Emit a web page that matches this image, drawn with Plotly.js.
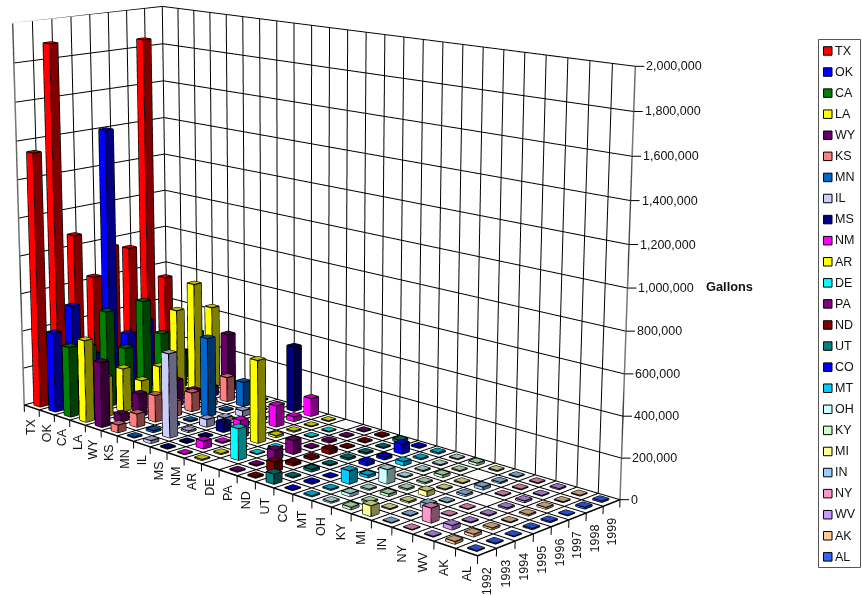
<!DOCTYPE html>
<html><head><meta charset="utf-8">
<script src="https://cdn.plot.ly/plotly-3.0.1.min.js"></script>
<style>
html,body{margin:0;padding:0;width:862px;height:595px;overflow:hidden;background:#fff}
#chart{position:absolute}
</style></head><body><div id="chart"></div>
<script>
// Annual volume in gallons per state, 1992 to 1999
const years=['1992','1993','1994','1995','1996','1997','1998','1999'];
const states=['TX','OK','CA','LA','WY','KS','MN','IL','MS','NM','AR','DE','PA','ND','UT','CO','MT','OH','KY','MI','IN','NY','WV','AK','AL'];
const colors=['#FF0000','#0000FF','#008000','#FFFF00','#660066','#FF8080','#0066CC','#CCCCFF','#000080','#FF00FF','#FFFF00','#00FFFF','#800080','#800000','#008080','#0000FF','#00CCFF','#CCFFFF','#CCFFCC','#FFFF99','#99CCFF','#FF99CC','#CC99FF','#FFCC99','#3366FF'];
const TX=[1345000,1890000,875000,630000,775000,745000,1850000,540000];
const OK=[420000,540000,260000,1430000,320000,370000,120000,150000];
const CA=[370000,350000,510000,290000,520000,320000,180000,280000];
const LA=[430000,210000,230000,140000,190000,470000,590000,440000];
const WY=[340000,40000,120000,80000,140000,60000,50000,315000];
const KS=[40000,70000,140000,80000,100000,30000,130000,20000];
const MN=[5000,10000,10000,5000,415000,5000,130000,5000];
const IL=[15000,435000,8000,40000,20000,30000,5000,5000];
const MS=[5000,5000,5000,50000,20000,10000,5000,345000];
const NM=[3000,40000,5000,90000,5000,110000,25000,95000];
const AR=[5000,5000,5000,425000,10000,5000,3000,3000];
const DE=[0,160000,3000,3000,3000,3000,3000,0];
const PA=[5000,4000,50000,70000,4000,8000,4000,4000];
const ND=[6000,50000,15000,10000,25000,4000,5000,6000];
const UT=[50000,5000,12000,5000,8000,6000,4000,12000];
const CO=[3000,6000,2000,4000,20000,12000,50000,6000];
const MT=[5000,5000,65000,12000,5000,20000,6000,6000];
const OH=[6000,15000,5000,70000,4000,5000,4000,4000];
const KY=[12000,6000,12000,6000,6000,12000,4000,12000];
const MI=[50000,4000,6000,25000,4000,4000,0,4000];
const IN=[2000,3000,25000,2000,8000,14000,6000,3000];
const NY=[2000,70000,2000,2000,0,3000,3000,3000];
const WV=[3000,20000,3000,4000,6000,8000,3000,5000];
const AK=[12000,12000,8000,3000,6000,8000,3000,3000];
const AL=[3000,3000,2000,5000,5000,2000,8000,6000];
const series=[TX,OK,CA,LA,WY,KS,MN,IL,MS,NM,AR,DE,PA,ND,UT,CO,MT,OH,KY,MI,IN,NY,WV,AK,AL];
const zTicks=[0,200000,400000,600000,800000,1000000,1200000,1400000,1600000,1800000,2000000];

// Camera: focal length in px, optical centre in window px, heading and pitch in degrees,
// eye position and box depth/height in units of the box length, floor corner as origin.
const FOCAL=2218.755,OPT_X=300.43,OPT_Y=262.62,HEADING=45.1884,PITCH=13.4346;
const EYE_X=2.8542,EYE_Y=-2.2134,EYE_Z=1.1016,DEPTH=.3238,TALL=.6446;

const NS=states.length,NT=years.length,ZMAX=2000000,ZDROP=38000;
const tall2=TALL*(ZMAX+ZDROP)/ZMAX;
const ha=HEADING*Math.PI/180,pa=PITCH*Math.PI/180;
const view=[-Math.cos(ha)*Math.cos(pa),Math.sin(ha)*Math.cos(pa),-Math.sin(pa)];
const mid=[.5,DEPTH/2,TALL-tall2/2];
const dist=(mid[0]-EYE_X)*view[0]+(mid[1]-EYE_Y)*view[1]+(mid[2]-EYE_Z)*view[2];
const eye={x:EYE_X-mid[0],y:EYE_Y-mid[1],z:EYE_Z-mid[2]};
const center={x:eye.x+dist*view[0],y:eye.y+dist*view[1],z:eye.z+dist*view[2]};

// A 45-degree lens at this focal length needs a plot larger than the window, so it is offset.
const H=Math.round(FOCAL/1.20711),W=H;
const LEFT=Math.round(OPT_X-W/2),TOP=Math.round(OPT_Y-H/2);
const el=document.getElementById('chart');
el.style.left=LEFT+'px';el.style.top=TOP+'px';el.style.width=W+'px';el.style.height=H+'px';
const px=x=>(x-LEFT)/W, py=y=>1-(y-TOP)/H;

function shade(hex,k){
  const n=parseInt(hex.slice(1),16);
  const c=[(n>>16)&255,(n>>8)&255,n&255].map(v=>Math.round(v*k));
  return 'rgb('+c.join(',')+')';
}
function lineSet(){
  const s={x:[],y:[],z:[],add(a,b){s.x.push(a[0],b[0],null);s.y.push(a[1],b[1],null);s.z.push(a[2],b[2],null);}};
  return s;
}
const HALF=.21;
const traces=[];
const edges=lineSet();
series.forEach((vals,s)=>{
  const X=[],Y=[],Z=[],I=[],J=[],K=[],F=[];
  vals.forEach((v,t)=>{
    if(!v) return;
    const x0=s+.5-HALF,x1=s+.5+HALF,y0=t+.5-HALF,y1=t+.5+HALF;
    const b=X.length;
    const P=[[x0,y0,0],[x1,y0,0],[x1,y1,0],[x0,y1,0],[x0,y0,v],[x1,y0,v],[x1,y1,v],[x0,y1,v]];
    P.forEach(p=>{X.push(p[0]);Y.push(p[1]);Z.push(p[2]);});
    const quad=(a,c,d,e,col)=>{I.push(b+a,b+a);J.push(b+c,b+d);K.push(b+d,b+e);F.push(col,col);};
    quad(0,1,5,4,shade(colors[s],1));
    quad(1,2,6,5,shade(colors[s],.5));
    quad(4,5,6,7,shade(colors[s],.75));
    [[0,1],[1,2],[0,4],[1,5],[2,6],[4,5],[5,6],[6,7],[7,4]].forEach(e=>edges.add(P[e[0]],P[e[1]]));
  });
  traces.push({type:'mesh3d',name:states[s],x:X,y:Y,z:Z,i:I,j:J,k:K,facecolor:F,flatshading:true,
    lighting:{ambient:1,diffuse:0,specular:0,roughness:1,fresnel:0},showscale:false,hoverinfo:'name+z'});
});
const lineTrace=(set,color,width)=>({type:'scatter3d',mode:'lines',x:set.x,y:set.y,z:set.z,line:{color,width},hoverinfo:'skip',connectgaps:false});

// Floor grid, both walls, and the short ticks hanging below the front edges
const grid=lineSet(),ticks=lineSet();
for(let i=0;i<=NS;i++){
  grid.add([i,0,0],[i,NT,0]);grid.add([i,NT,0],[i,NT,ZMAX]);
  ticks.add([i,0,0],[i,0,-ZDROP]);
}
for(let j=0;j<=NT;j++){
  grid.add([0,j,0],[NS,j,0]);grid.add([0,j,0],[0,j,ZMAX]);
  ticks.add([NS,j,0],[NS,j,-ZDROP]);
}
zTicks.forEach(v=>{grid.add([0,0,v],[0,NT,v]);grid.add([0,NT,v],[NS,NT,v]);});
traces.push(lineTrace(grid,'#000',2));
traces.push(lineTrace(ticks,'#000',2));
traces.push(lineTrace(edges,'#000',2.2));
traces.push({type:'scatter3d',mode:'lines',x:[0,0,0,NS,NS],y:[0,0,NT,NT,NT],z:[0,ZMAX,ZMAX,ZMAX,0],line:{color:'#777',width:3},hoverinfo:'skip'});
traces.push({type:'scatter3d',mode:'lines',x:[0,NS,NS],y:[0,0,NT],z:[0,0,0],line:{color:'#000',width:3},hoverinfo:'skip'});

const axisFont={family:'Liberation Sans, Arial, sans-serif',size:12.5,color:'#111'};
const XE=NS*.99999,YE=NT*.99999;
const annos=[];
states.forEach((t,s)=>annos.push({x:s+.5,y:0,z:0,text:t,textangle:-90,showarrow:false,yanchor:'top',xanchor:'center',yshift:-(8.5+s*.15),font:axisFont}));
years.forEach((t,i)=>annos.push({x:XE,y:i+.5,z:0,text:t,textangle:-90,showarrow:false,yanchor:'top',xanchor:'center',yshift:-13,font:axisFont}));
zTicks.forEach(v=>annos.push({x:XE,y:YE,z:v,text:v.toLocaleString('en-US'),showarrow:true,arrowhead:0,arrowwidth:1,arrowcolor:'#000',ax:9,ay:0,standoff:0,xanchor:'left',yanchor:'middle',font:axisFont}));

// Legend box, drawn by hand for its narrow swatch-and-label layout
const legendShapes=[{type:'rect',xref:'paper',yref:'paper',x0:px(818.5),x1:px(860.5),y0:py(39.5),y1:py(567.5),line:{color:'#555',width:1},fillcolor:'#fff'}];
const legendAnn=[];
states.forEach((t,s)=>{
  const yc=50.7+s*21.08;
  legendShapes.push({type:'rect',xref:'paper',yref:'paper',x0:px(823.5),x1:px(832),y0:py(yc-4),y1:py(yc+4.5),line:{color:'#000',width:1},fillcolor:colors[s]});
  legendAnn.push({xref:'paper',yref:'paper',x:px(834),y:py(yc),text:t,showarrow:false,xanchor:'left',yanchor:'middle',font:axisFont,borderpad:0});
});
legendAnn.push({xref:'paper',yref:'paper',x:px(704),y:py(286),text:'<b>Gallons</b>',showarrow:false,xanchor:'left',yanchor:'middle',font:{family:'Liberation Sans, Arial, sans-serif',size:12.8,color:'#111'}});

const ax=range=>({range,showticklabels:false,ticks:'',showgrid:false,showline:false,zeroline:false,showbackground:false,showspikes:false,title:{text:''}});
const layout={width:W,height:H,margin:{l:0,r:0,t:0,b:0},paper_bgcolor:'#fff',showlegend:false,
  shapes:legendShapes,annotations:legendAnn,
  scene:{domain:{x:[0,1],y:[0,1]},aspectmode:'manual',aspectratio:{x:1,y:DEPTH,z:tall2},
    camera:{eye,center,up:{x:0,y:0,z:1},projection:{type:'perspective'}},
    xaxis:ax([0,NS]),yaxis:ax([0,NT]),zaxis:ax([-ZDROP,ZMAX]),
    annotations:annos}};
Plotly.newPlot(el,traces,layout,{displayModeBar:false,responsive:false});
</script></body></html>
